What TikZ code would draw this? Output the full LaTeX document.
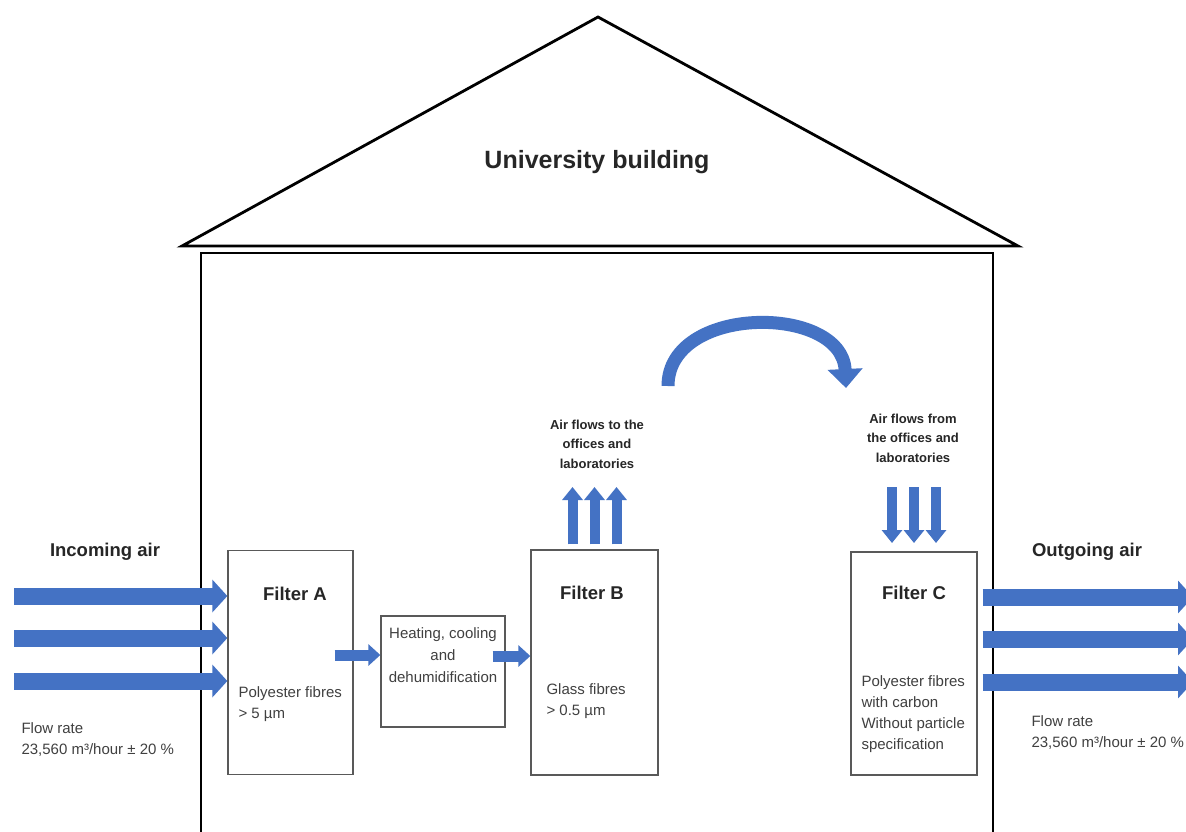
\documentclass[tikz,border=0pt]{standalone}
\usepackage{fontspec}
\setmainfont{Liberation Sans}
\usetikzlibrary{arrows.meta,positioning}
\definecolor{flowblue}{HTML}{4472C4}
\definecolor{boxgray}{HTML}{595959}
\definecolor{inkdark}{HTML}{262626}
\definecolor{inkgray}{HTML}{404040}
\tikzset{
  wallline/.style={draw=black,line width=2.8pt,line join=miter},
  filterbox/.style={draw=boxgray,line width=1.3pt,inner sep=0pt,minimum width=125pt,minimum height=224pt},
  bigarrow/.style={draw=flowblue,line width=17pt,-{Triangle[width=32pt,length=15pt]}},
  smallarrow/.style={draw=flowblue,line width=11pt,-{Triangle[width=21pt,length=12pt]}},
  thinarrow/.style={draw=flowblue,line width=10pt,-{Triangle[width=20pt,length=13pt]}},
  bendarrow/.style={draw=flowblue,line width=13pt,-{Triangle[width=34pt,length=19pt]}},
  headtxt/.style={text=inkdark,font=\fontsize{25}{30}\selectfont\bfseries},
  bigtxt/.style={text=inkdark,font=\fontsize{18.5}{22}\selectfont\bfseries},
  flowtxt/.style={text=inkdark,align=center,font=\fontsize{13}{19.5}\selectfont\bfseries},
  smalltxt/.style={text=inkgray,align=left,anchor=west,font=\fontsize{15}{21}\selectfont},
}
\begin{document}
\begin{tikzpicture}[x=1pt,y=-1pt]
\clip (0,0) rectangle (1186,831);
\fill[white] (0,0) rectangle (1186,831);
% house
\coordinate (apex) at (598,17);
\coordinate (roofL) at (182,246);
\coordinate (roofR) at (1018,246);
\draw[wallline] (roofL) -- (apex) -- (roofR) -- cycle;
\draw[wallline] (201,840) -- (201,253) -- (993,253) -- (993,840);
\node[headtxt] (title) at (597,162) {University building};
% boxes
\node[filterbox] (fA) at (290.5,662.5) {};
\node[filterbox,minimum width=124pt,minimum height=111pt] (heat) at (443,671.5) {};
\node[filterbox,minimum width=127pt,minimum height=225pt] (fB) at (594.5,662.5) {};
\node[filterbox,minimum width=126pt,minimum height=223pt] (fC) at (914,663.5) {};
% box texts
\node[bigtxt] (fAname) at (295,594) {Filter A};
\node[bigtxt] (fBname) at (592,593) {Filter B};
\node[bigtxt] (fCname) at (914,593) {Filter C};
\node[smalltxt] (fAtxt) at (235,704.5) {Polyester fibres\\> 5 µm};
\node[smalltxt] (fBtxt) at (543,701) {Glass fibres\\> 0.5 µm};
\node[smalltxt] (fCtxt) at (858,714.5) {Polyester fibres\\with carbon\\Without particle\\specification};
\node[smalltxt,anchor=center,align=center,font=\fontsize{15}{22}\selectfont] (heattxt) at (443,655) {Heating, cooling\\and\\dehumidification};
% incoming and outgoing air
\node[bigtxt] (inTxt) at (105,552) {Incoming air};
\node[bigtxt] (outTxt) at (1087,552) {Outgoing air};
\node[smalltxt] (inRate) at (18,740) {Flow rate\\23,560 m³/hour ± 20 \%};
\node[smalltxt] (outRate) at (1028,732.5) {Flow rate\\23,560 m³/hour ± 20 \%};
\foreach \i/\y in {1/596,2/638,3/681}{
  \coordinate (in\i) at (14,\y);
  \coordinate (out\i) at (1193,\y+1);
  \draw[bigarrow] (in\i) -- (in\i -| fA.west);
  \draw[bigarrow] ([xshift=5pt]fC.east |- out\i) -- (out\i);
}
% flow between boxes
\coordinate (aOut) at ([xshift=-19pt]fA.east |- 0,655);
\coordinate (hOut) at ([xshift=-13pt]heat.east |- 0,656);
\draw[smallarrow] (aOut) -- (aOut -| heat.west);
\draw[smallarrow] (hOut) -- (hOut -| fB.west);
% to and from the offices
\node[flowtxt] (toTxt) at (597,444) {Air flows to the\\offices and\\laboratories};
\node[flowtxt] (fromTxt) at (913,438) {Air flows from\\the offices and\\laboratories};
\coordinate (upB) at (594.5,487);
\coordinate (downC) at (914,543);
\foreach \dx in {-22,0,22}{
  \draw[thinarrow] ([xshift=\dx pt,yshift=5pt]fB.north) -- ([xshift=\dx pt]upB);
  \draw[thinarrow] ([xshift=\dx pt,yshift=56pt]downC) -- ([xshift=\dx pt]downC);
}
\coordinate (bendS) at (668,386);
\coordinate (bendE) at (846,388);
\draw[bendarrow] (bendS) .. controls (668,304) and (842,304) .. (bendE);
\end{tikzpicture}
\end{document}
